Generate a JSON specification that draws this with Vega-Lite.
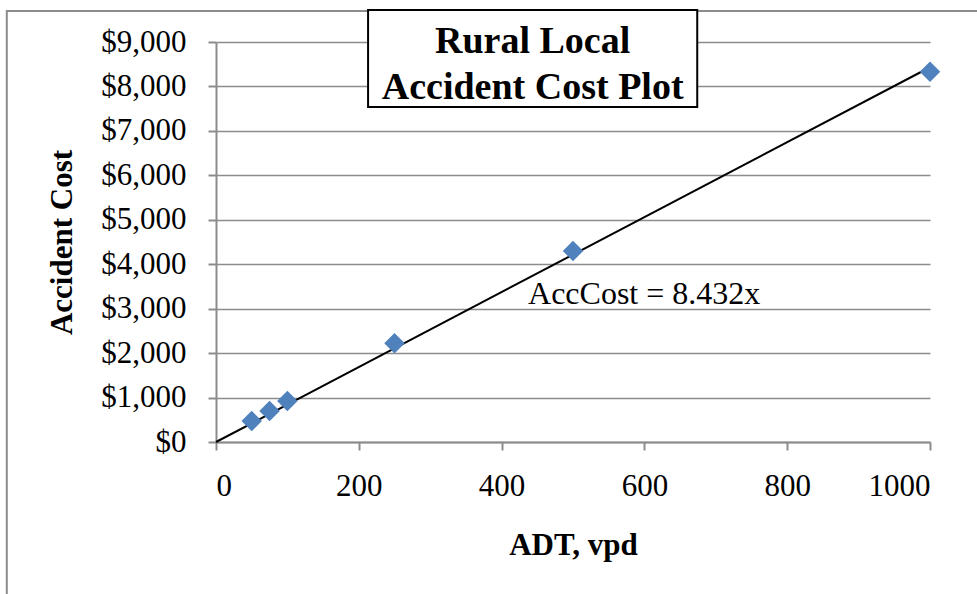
{
  "$schema": "https://vega.github.io/schema/vega-lite/v6.json",
  "width": 714,
  "height": 400,
  "autosize": "none",
  "padding": {"left": 216, "top": 42, "right": 47, "bottom": 152},
  "background": "white",
  "config": {
    "view": {"stroke": null},
    "font": "Liberation Serif"
  },
  "data": {"values": [{}]},
  "datasets": {
    "points": [
      {"adt": 50, "cost": 470},
      {"adt": 75, "cost": 700},
      {"adt": 100, "cost": 925},
      {"adt": 250, "cost": 2220},
      {"adt": 500, "cost": 4300},
      {"adt": 1000, "cost": 8330}
    ],
    "fit": [
      {"adt": 0, "cost": 0},
      {"adt": 1000, "cost": 8432}
    ]
  },
  "layer": [
    {
      "mark": {"type": "rect", "fill": null, "stroke": "#8c8c8c", "strokeWidth": 2, "clip": false},
      "encoding": {
        "x": {"datum": -293, "type": "quantitative", "scale": {"domain": [0, 1000], "nice": false}},
        "x2": {"datum": 1070},
        "y": {"datum": 9700, "type": "quantitative", "scale": {"domain": [0, 9000], "nice": false}},
        "y2": {"datum": -3560}
      }
    },
    {
      "data": {"name": "fit"},
      "mark": {"type": "line", "color": "black", "strokeWidth": 2},
      "encoding": {
        "x": {
          "field": "adt", "type": "quantitative",
          "scale": {"domain": [0, 1000], "nice": false},
          "axis": {
            "title": "ADT, vpd",
            "titleFont": "Liberation Serif", "titleFontSize": 31, "titleFontWeight": "bold", "titleColor": "black",
            "titlePadding": 29,
            "labelFont": "Liberation Serif", "labelFontSize": 31, "labelColor": "black", "labelPadding": 21,
            "format": "d",
            "values": [0, 200, 400, 600, 800, 1000],
            "domainColor": "#8c8c8c", "domainWidth": 2,
            "tickColor": "#8c8c8c", "tickWidth": 2, "tickSize": 8,
            "grid": false
          }
        },
        "y": {
          "field": "cost", "type": "quantitative",
          "scale": {"domain": [0, 9000], "nice": false},
          "axis": {
            "title": "Accident Cost",
            "titleFont": "Liberation Serif", "titleFontSize": 31, "titleFontWeight": "bold", "titleColor": "black",
            "titlePadding": 22,
            "labelFont": "Liberation Serif", "labelFontSize": 31, "labelColor": "black", "labelPadding": 22,
            "format": "$,.0f",
            "values": [0, 1000, 2000, 3000, 4000, 5000, 6000, 7000, 8000, 9000],
            "domainColor": "#8c8c8c", "domainWidth": 2,
            "tickColor": "#8c8c8c", "tickWidth": 2, "tickSize": 8,
            "grid": true, "gridColor": "#8c8c8c", "gridWidth": 1.5
          }
        }
      }
    },
    {
      "data": {"name": "points"},
      "mark": {"type": "point", "shape": "diamond", "filled": true, "color": "#4f81bd", "size": 420, "opacity": 1},
      "encoding": {
        "x": {"field": "adt", "type": "quantitative"},
        "y": {"field": "cost", "type": "quantitative"}
      }
    },
    {
      "mark": {"type": "text", "text": "AccCost = 8.432x", "font": "Liberation Serif", "fontSize": 32, "align": "left", "baseline": "middle", "color": "black"},
      "encoding": {
        "x": {"datum": 437, "type": "quantitative"},
        "y": {"datum": 3340, "type": "quantitative"}
      }
    },
    {
      "mark": {"type": "rect", "fill": "white", "stroke": "black", "strokeWidth": 2, "clip": false},
      "encoding": {
        "x": {"datum": 213, "type": "quantitative"},
        "x2": {"datum": 674},
        "y": {"datum": 9720, "type": "quantitative"},
        "y2": {"datum": 7540}
      }
    },
    {
      "mark": {"type": "text", "text": ["Rural Local", "Accident Cost Plot"], "font": "Liberation Serif", "fontSize": 38, "fontWeight": "bold", "align": "center", "baseline": "middle", "lineHeight": 46, "color": "black"},
      "encoding": {
        "x": {"datum": 443.5, "type": "quantitative"},
        "y": {"datum": 9010, "type": "quantitative"}
      }
    }
  ]
}
